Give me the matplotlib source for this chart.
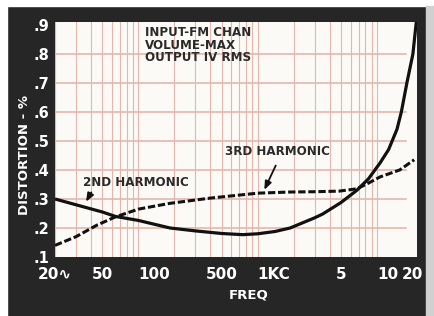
import numpy as np
import matplotlib
matplotlib.use("Agg")
import matplotlib.pyplot as plt
from matplotlib.patches import Rectangle

# 1. VALUES
freq_2nd = [20, 30, 50, 64, 100, 184, 300, 500, 750, 1000, 1400, 1870, 3000, 3500,
            5000, 6780, 8500, 10600, 12500, 14700, 16000, 17800, 20000, 21600]
dist_2nd = [0.30, 0.28, 0.255, 0.24, 0.226, 0.20, 0.19, 0.181, 0.177, 0.18, 0.188,
            0.20, 0.235, 0.248, 0.288, 0.33, 0.37, 0.424, 0.47, 0.54, 0.60, 0.70,
            0.80, 0.93]

freq_3rd = [20, 30, 45, 64, 100, 184, 400, 1000, 1870, 3000, 4800, 6780, 8500,
            10600, 15500, 20500]
dist_3rd = [0.14, 0.17, 0.21, 0.238, 0.265, 0.285, 0.303, 0.32, 0.324, 0.325,
            0.327, 0.335, 0.355, 0.376, 0.40, 0.435]

y_ticks = [0.1, 0.2, 0.3, 0.4, 0.5, 0.6, 0.7, 0.8, 0.9]
y_labels = [".1", ".2", ".3", ".4", ".5", ".6", ".7", ".8", ".9"]
x_ticks = [20, 50, 100, 500, 1000, 5000, 10000, 20000]
x_labels = ["20∿", "50", "100", "500", "1KC", "5", "10", "20"]

bg = "#262626"
grid_col = "#e5b7ac"

# 2. FIGURE + AXES
fig = plt.figure(figsize=(4.34, 3.16), dpi=100, facecolor=bg)
ax = fig.add_axes([55/434, 59/316, 362/434, 235/316], facecolor="#fbfaf6")

# paper edges of the scan
fig.add_artist(Rectangle((0, 1 - 6/316), 1, 6/316, transform=fig.transFigure,
                         color="white", zorder=0))
fig.add_artist(Rectangle((0, 0), 7/434, 1, transform=fig.transFigure,
                         color="white", zorder=0))
fig.add_artist(Rectangle((426/434, 0), 8/434, 1 - 6/316, transform=fig.transFigure,
                         color="#d0d0d0", zorder=0))

ax.set_xscale("log")
ax.set_xlim(20, 21640)
ax.set_ylim(0.1, 0.91)

# 3. GRAPH PAPER
for dec in [10, 100, 1000]:
    for k in range(1, 10):
        f = k * dec
        if 20 <= f <= 10000:
            ax.axvline(f, color=grid_col, lw=0.8, zorder=1)
ax.axvline(10000, color=grid_col, lw=0.8, zorder=1)
for v in y_ticks[1:-1]:
    ax.axhline(v, color=grid_col, lw=1.2, zorder=1, xmax=0.97)

# 4. CURVES
ax.plot(freq_2nd, dist_2nd, color="#111111", lw=2.3, zorder=3,
        solid_capstyle="butt", solid_joinstyle="round")
ax.plot(freq_3rd, dist_3rd, color="#111111", lw=2.2, zorder=3,
        dashes=(2.4, 0.9))

# 5. TEXT ON THE CHART
txt = dict(color="#2a2a2a", fontweight="bold", fontsize=8.6,
           transform=ax.transAxes, zorder=4)
ax.text(0.249, 0.982, "INPUT-FM CHAN\nVOLUME-MAX\nOUTPUT IV RMS", va="top",
        ha="left", linespacing=0.95, **txt)
ax.text(0.47, 0.447, "3RD HARMONIC", va="center", ha="left", **txt)
ax.text(0.077, 0.319, "2ND HARMONIC", va="center", ha="left", **txt)

arrow = dict(arrowstyle="-|>,head_length=0.5,head_width=0.2", color="#111111", lw=1.3)
ax.annotate("", xy=(0.575, 0.275), xytext=(0.613, 0.40),
            xycoords="axes fraction", arrowprops=arrow, zorder=4)
ax.annotate("", xy=(0.082, 0.225), xytext=(0.104, 0.285),
            xycoords="axes fraction", arrowprops=arrow, zorder=4)

# 6. AXES LABELS
for s in ax.spines.values():
    s.set_visible(False)
ax.minorticks_off()
ax.set_yticks(y_ticks)
ax.set_yticklabels(y_labels)
ax.set_xticks(x_ticks)
ax.set_xticklabels(x_labels)
ax.tick_params(axis="y", length=0, pad=4, labelsize=10.5, labelcolor="white")
ax.tick_params(axis="x", length=0, pad=7, labelsize=11, labelcolor="white")
for lab in ax.get_yticklabels() + ax.get_xticklabels():
    lab.set_fontweight("bold")
for lab in ax.get_xticklabels():
    if lab.get_text() in ("100", "1KC", "10"):
        lab.set_ha("left")

fig.text(25/434, 1 - 155/316, "DISTORTION - %", rotation=90, color="white",
         fontweight="bold", fontsize=9.5, ha="center", va="center")
fig.text(249/434, 1 - 295/316, "FREQ", color="white", fontweight="bold",
         fontsize=9.5, ha="center", va="center")

plt.savefig("out.png", dpi=100, facecolor=bg)
